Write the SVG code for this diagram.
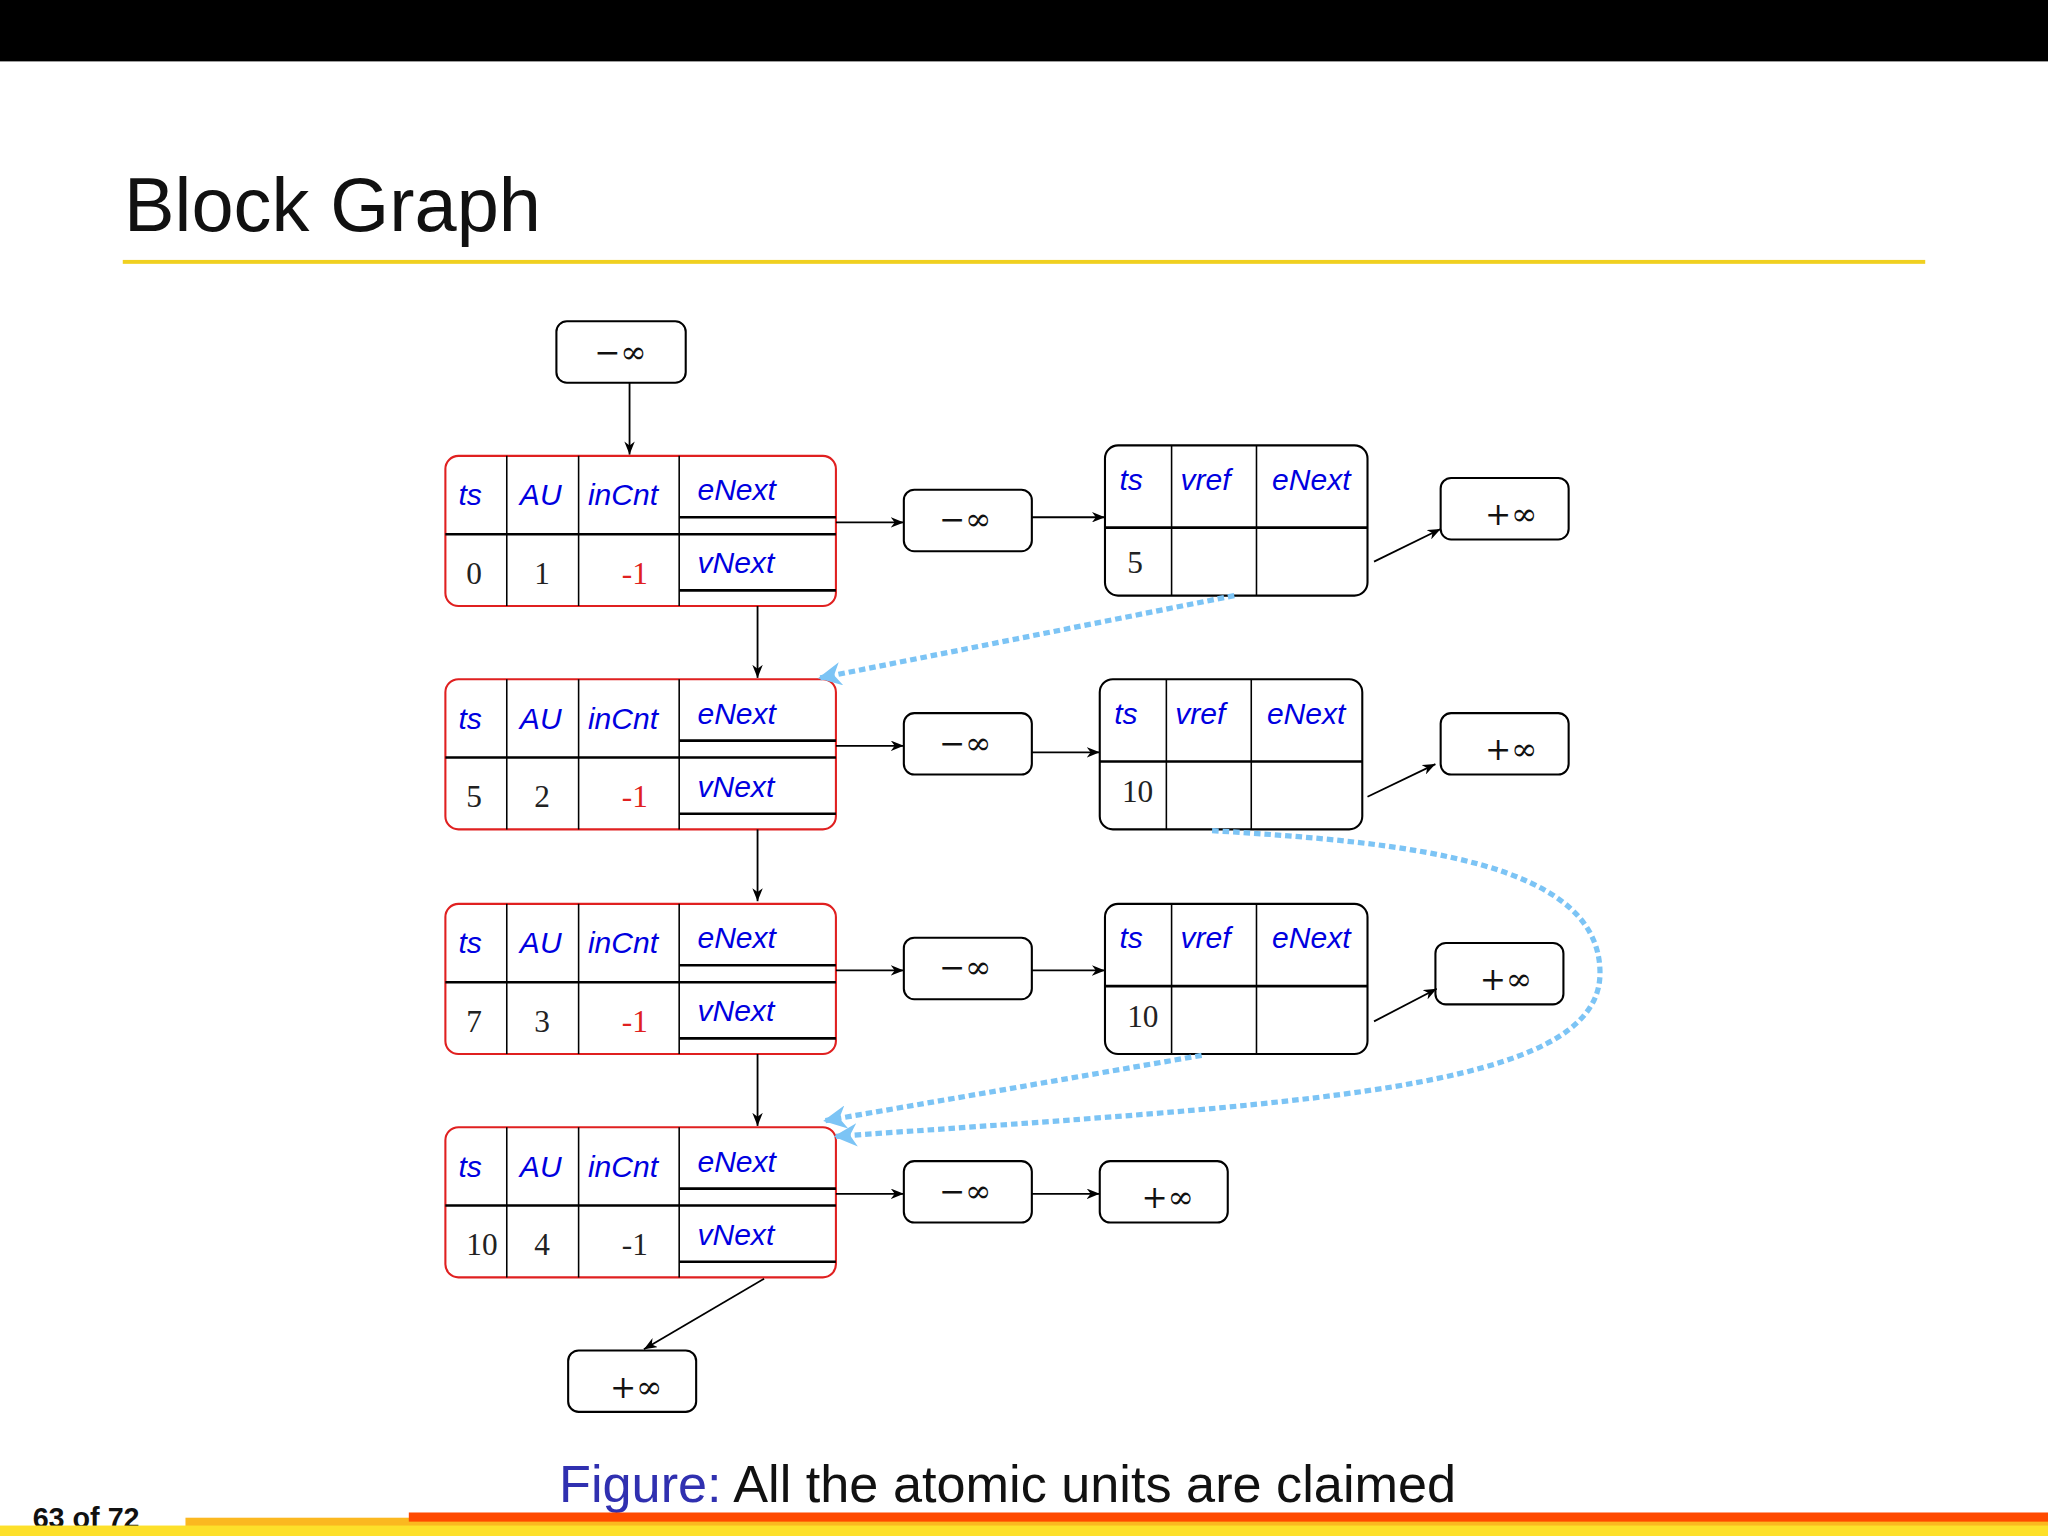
<svg xmlns="http://www.w3.org/2000/svg" width="2048" height="1536" viewBox="0 0 2048 1536">
<defs>
<style>
.bx{fill:#fff;stroke:#000;stroke-width:1.6}
.rb{fill:#fff;stroke:#e02020;stroke-width:1.6}
.ln{stroke:#000;stroke-width:1.2;fill:none}
.lt{stroke:#000;stroke-width:2;fill:none}
.h{font-family:"Liberation Sans",sans-serif;font-style:italic;font-size:23px;fill:#0000e0}
.n{font-family:"Liberation Serif",serif;font-size:24px;fill:#222}
.r{fill:#e02020}
.inf{font-family:"DejaVu Serif",serif;font-size:24px;fill:#111}
.ar{stroke:#000;stroke-width:1.4;fill:none;marker-end:url(#a)}
.bl{stroke:#7cc4f5;stroke-width:4;stroke-dasharray:5 3;fill:none;marker-end:url(#b)}
</style>
<marker id="a" viewBox="0 0 10 8" refX="10" refY="4" markerWidth="10" markerHeight="8" markerUnits="userSpaceOnUse" orient="auto"><path d="M0,0 L10,4 L0,8 L3,4 z" fill="#000"/></marker>
<marker id="b" viewBox="0 0 10 10" refX="9" refY="5" markerWidth="18" markerHeight="18" markerUnits="userSpaceOnUse" orient="auto"><path d="M0,0 L10,5 L0,10 L3,5 z" fill="#7cc4f5"/></marker>
<g id="blk">
<rect class="rb" x="0" y="0" width="299" height="115" rx="10"/>
<path class="ln" d="M47,0V115M102,0V115M179,0V115"/>
<path class="lt" d="M0,60H299M179,47H299M179,103H299"/>
<text class="h" x="19" y="38" text-anchor="middle">ts</text>
<text class="h" x="73" y="38" text-anchor="middle">AU</text>
<text class="h" x="136" y="38" text-anchor="middle">inCnt</text>
<text class="h" x="193" y="34">eNext</text>
<text class="h" x="193" y="90">vNext</text>
</g>
<g id="tbl">
<rect class="bx" x="0" y="0" width="201" height="115" rx="10"/>
<path class="ln" d="M51,0V115M116,0V115"/>
<path class="lt" d="M0,63H201"/>
<text class="h" x="20" y="34" text-anchor="middle">ts</text>
<text class="h" x="77" y="34" text-anchor="middle">vref</text>
<text class="h" x="158" y="34" text-anchor="middle">eNext</text>
</g>
</defs>
<rect width="2048" height="1536" fill="#fff"/>
<g transform="scale(1.30612)">
<rect x="0" y="0" width="1568" height="47" fill="#000"/>
<text x="95" y="177" font-family="Liberation Sans,sans-serif" font-size="58" fill="#111">Block Graph</text>
<rect x="94" y="199" width="1380" height="3" fill="#f0d020"/>

<g id="top-minf"><rect class="bx" x="426" y="246" width="99" height="47" rx="8"/><text class="inf" x="475" y="278" text-anchor="middle">−∞</text></g>

<g id="b1"><use href="#blk" x="341" y="349"/><text class="n" x="363" y="447" text-anchor="middle">0</text><text class="n" x="415" y="447" text-anchor="middle">1</text><text class="n r" x="486" y="447" text-anchor="middle">-1</text></g>
<g id="b2"><use href="#blk" x="341" y="520"/><text class="n" x="363" y="618" text-anchor="middle">5</text><text class="n" x="415" y="618" text-anchor="middle">2</text><text class="n r" x="486" y="618" text-anchor="middle">-1</text></g>
<g id="b3"><use href="#blk" x="341" y="692"/><text class="n" x="363" y="790" text-anchor="middle">7</text><text class="n" x="415" y="790" text-anchor="middle">3</text><text class="n r" x="486" y="790" text-anchor="middle">-1</text></g>
<g id="b4"><use href="#blk" x="341" y="863"/><text class="n" x="369" y="961" text-anchor="middle">10</text><text class="n" x="415" y="961" text-anchor="middle">4</text><text class="n" x="486" y="961" text-anchor="middle">-1</text></g>

<g id="m1"><rect class="bx" x="692" y="375" width="98" height="47" rx="8"/><text class="inf" x="739" y="406" text-anchor="middle">−∞</text></g>
<g id="m2"><rect class="bx" x="692" y="546" width="98" height="47" rx="8"/><text class="inf" x="739" y="577" text-anchor="middle">−∞</text></g>
<g id="m3"><rect class="bx" x="692" y="718" width="98" height="47" rx="8"/><text class="inf" x="739" y="749" text-anchor="middle">−∞</text></g>
<g id="m4"><rect class="bx" x="692" y="889" width="98" height="47" rx="8"/><text class="inf" x="739" y="920" text-anchor="middle">−∞</text></g>

<g id="t1"><use href="#tbl" x="846" y="341"/><text class="n" x="869" y="439" text-anchor="middle">5</text></g>
<g id="t2"><use href="#tbl" x="842" y="520"/><text class="n" x="871" y="614" text-anchor="middle">10</text></g>
<g id="t3"><use href="#tbl" x="846" y="692"/><text class="n" x="875" y="786" text-anchor="middle">10</text></g>

<g id="p1"><rect class="bx" x="1103" y="366" width="98" height="47" rx="8"/><text class="inf" x="1157" y="402" text-anchor="middle">+∞</text></g>
<g id="p2"><rect class="bx" x="1103" y="546" width="98" height="47" rx="8"/><text class="inf" x="1157" y="582" text-anchor="middle">+∞</text></g>
<g id="p3"><rect class="bx" x="1099" y="722" width="98" height="47" rx="8"/><text class="inf" x="1153" y="758" text-anchor="middle">+∞</text></g>
<g id="p4"><rect class="bx" x="842" y="889" width="98" height="47" rx="8"/><text class="inf" x="894" y="925" text-anchor="middle">+∞</text></g>
<g id="p5"><rect class="bx" x="435" y="1034" width="98" height="47" rx="8"/><text class="inf" x="487" y="1070" text-anchor="middle">+∞</text></g>

<g id="connectors">
<path class="ar" d="M482,293V348"/>
<path class="ar" d="M580,464V519"/>
<path class="ar" d="M580,635V690"/>
<path class="ar" d="M580,807V862"/>
<path class="ar" d="M585,979L493,1033"/>
<path class="ar" d="M640,400H692"/>
<path class="ar" d="M640,571H692"/>
<path class="ar" d="M640,743H692"/>
<path class="ar" d="M640,914H692"/>
<path class="ar" d="M790,396H846"/>
<path class="ar" d="M790,576H842"/>
<path class="ar" d="M790,743H846"/>
<path class="ar" d="M790,914H842"/>
<path class="ar" d="M1052,430L1103,405"/>
<path class="ar" d="M1047,610L1099,585"/>
<path class="ar" d="M1052,782L1100,757"/>
<path class="bl" d="M945,456L628,519"/>
<path class="bl" d="M928,636C1080,645 1225,660 1225,745C1225,835 1000,845 640,870"/>
<path class="bl" d="M920,808L632,858"/>
</g>

<text x="428" y="1150" font-family="Liberation Sans,sans-serif" font-size="40"><tspan fill="#3030b0">Figure:</tspan><tspan fill="#111"> All the atomic units are claimed</tspan></text>
<text x="25" y="1170" font-family="Liberation Sans,sans-serif" font-size="22" font-weight="bold" fill="#111">63 of 72</text>
<rect x="142" y="1162" width="1426" height="8" fill="#fbb820"/>
<rect x="313" y="1158" width="1255" height="7" fill="#ff4a00"/>
<rect x="0" y="1168" width="1568" height="8" fill="#fde02a"/>
</g>
</svg>
